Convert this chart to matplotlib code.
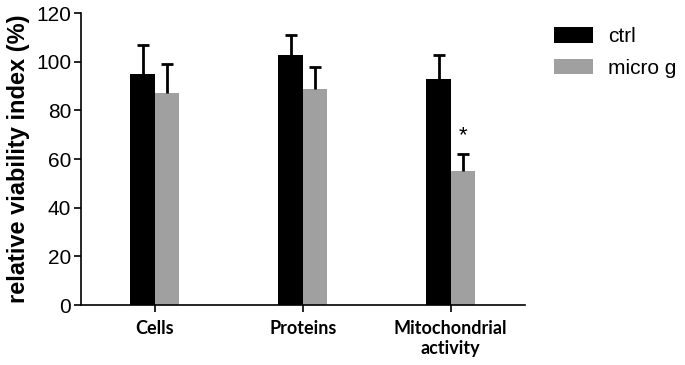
import numpy as np
import matplotlib
matplotlib.use("Agg")
import matplotlib.pyplot as plt

categories = ["Cells", "Proteins", "Mitochondrial\nactivity"]
ctrl = [95, 103, 93]
ctrl_err = [12, 8, 10]
microg = [87, 89, 55]
microg_err = [12, 9, 7]

plt.rcParams["font.family"] = ["Liberation Sans", "DejaVu Sans"]

fig = plt.figure(figsize=(6.85, 3.65), dpi=100)
ax = fig.add_axes([0.118, 0.164, 0.648, 0.8])

x = np.arange(len(categories))
w = 0.165
ax.bar(x - w / 2, ctrl, w, color="black", label="ctrl")
ax.bar(x + w / 2, microg, w, color="#a0a0a0", label="micro g")

# upper-only error bars
for xs, vals, errs in [(x - w / 2, ctrl, ctrl_err), (x + w / 2, microg, microg_err)]:
    eb = ax.errorbar(xs, vals, yerr=[np.zeros(3), errs], fmt="none",
                     ecolor="black", elinewidth=2, capsize=4, capthick=2)
    eb.lines[1][0].set_visible(False)

# significance mark
ax.text(x[2] + w / 2, microg[2] + microg_err[2] + 3.5, "*", ha="center",
        va="bottom", fontsize=16)

ax.set_xlim(-0.5, 2.5)
ax.set_ylim(0, 120)
ax.set_yticks(range(0, 121, 20))
ax.tick_params(axis="y", labelsize=15, width=1.2, length=5, pad=2)
ax.tick_params(axis="x", width=1.2, length=5, pad=6)
ax.set_xticks(x)
ax.set_xticklabels(categories, fontsize=13, fontweight="bold",
                   family=["Lato", "DejaVu Sans"], linespacing=1.15)
ax.set_ylabel("relative viability index (%)", fontsize=17, fontweight="bold",
              labelpad=4)
for s in ["top", "right"]:
    ax.spines[s].set_visible(False)
for s in ["left", "bottom"]:
    ax.spines[s].set_linewidth(1.2)

ax.legend(loc="upper left", bbox_to_anchor=(1.065, 0.952), frameon=False,
          borderpad=0, borderaxespad=0, fontsize=15, handlelength=1.9,
          handleheight=0.75, labelspacing=0.6, handletextpad=0.7)

fig.savefig("out.png", dpi=100)
